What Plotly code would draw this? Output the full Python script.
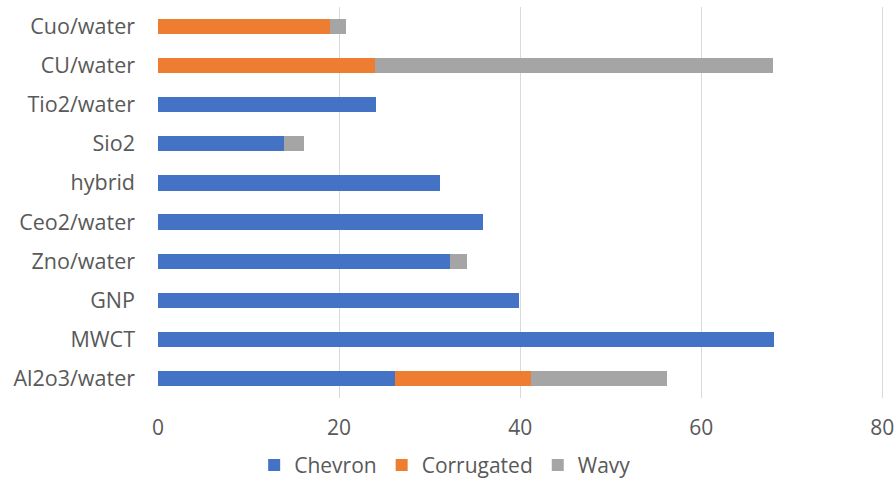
import plotly.graph_objects as go

# Categories, bottom to top as drawn on the y axis
categories = ["Al2o3/water", "MWCT", "GNP", "Zno/water", "Ceo2/water",
              "hybrid", "Sio2", "Tio2/water", "CU/water", "Cuo/water"]

chevron = [26.2, 68.0, 39.9, 32.2, 35.9, 31.1, 13.9, 24.1, 0, 0]
corrugated = [15.0, 0, 0, 0, 0, 0, 0, 0, 24.0, 19.0]
wavy = [15.0, 0, 0, 1.9, 0, 0, 2.2, 0, 43.9, 1.8]

x_ticks = [0, 20, 40, 60, 80]

series = [
    ("Chevron", chevron, "#4472C4"),
    ("Corrugated", corrugated, "#ED7D31"),
    ("Wavy", wavy, "#A5A5A5"),
]

fig = go.Figure()
for name, vals, color in series:
    fig.add_trace(go.Bar(
        y=categories, x=vals, name=name, orientation="h",
        marker=dict(color=color, line=dict(width=0)),
    ))

font_family = "Open Sans, Liberation Sans, sans-serif"
text_color = "#595959"
fig.update_layout(
    barmode="stack",
    bargap=0.61,
    width=896, height=478,
    margin=dict(l=158, r=11, t=7, b=80, autoexpand=False),
    plot_bgcolor="white", paper_bgcolor="white",
    font=dict(family=font_family, size=21, color=text_color),
    # range runs a little past 80 so the last gridline stays visible
    xaxis=dict(range=[0, 80.3], tickvals=x_ticks, showgrid=True,
               gridcolor="#D9D9D9", gridwidth=1.3, zeroline=False,
               ticks="", ticklabelstandoff=15, ticklabeloverflow="allow",
               tickfont=dict(size=21, color=text_color)),
    yaxis=dict(categoryorder="array", categoryarray=categories,
               showgrid=False, zeroline=False, ticks="",
               ticklabelstandoff=22,
               tickfont=dict(size=21.5, color=text_color)),
    legend=dict(orientation="h", x=0.395, xanchor="center", y=-0.172,
                yanchor="middle", font=dict(size=21, color=text_color),
                itemwidth=30, traceorder="normal"),
)

fig.write_html("out.html")
